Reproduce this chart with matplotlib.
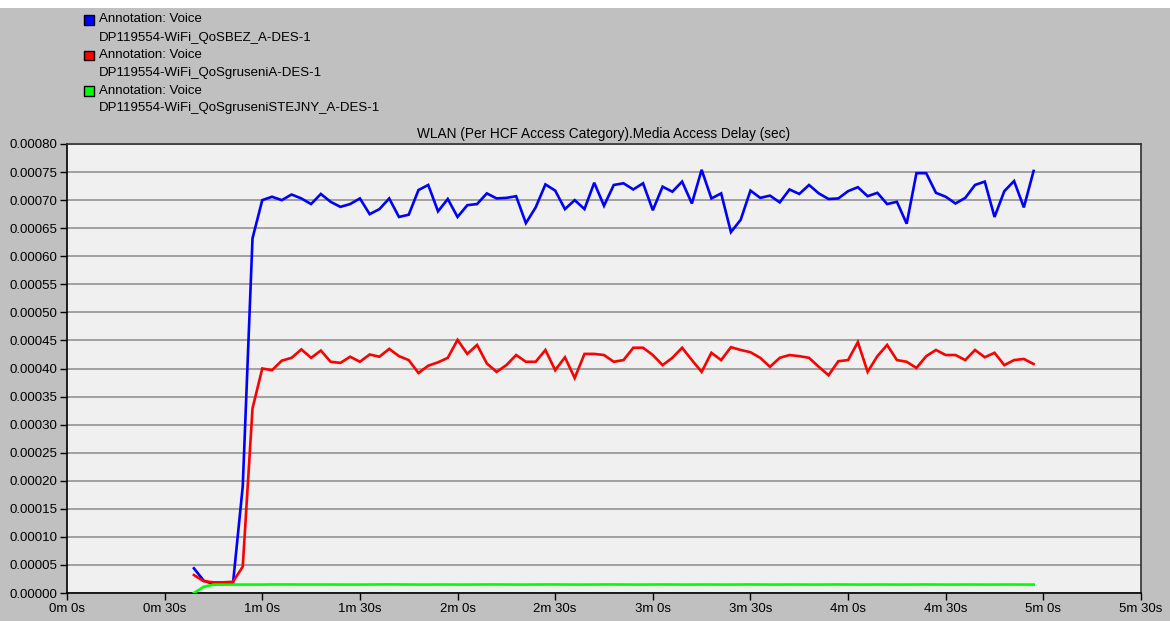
import matplotlib
matplotlib.use("Agg")
import matplotlib.pyplot as plt
from matplotlib.ticker import FuncFormatter, MultipleLocator
from matplotlib.patches import Rectangle

plt.rcParams['font.family'] = ['Liberation Sans', 'DejaVu Sans']

# cas vzorku (s), krok 3 s
t_start = 39
t_step = 3

bez = [0.000044, 0.000022, 0.000016, 0.000016, 0.000017, 0.000190, 0.000632,
       0.000700, 0.000706, 0.000700, 0.000710, 0.000703, 0.000693, 0.000711,
       0.000697, 0.000688, 0.000693, 0.000703, 0.000675, 0.000684, 0.000703,
       0.000670, 0.000674, 0.000718, 0.000727, 0.000680, 0.000702, 0.000670,
       0.000691, 0.000693, 0.000712, 0.000703, 0.000704, 0.000707, 0.000659,
       0.000687, 0.000728, 0.000717, 0.000684, 0.000700, 0.000684, 0.000731,
       0.000690, 0.000727, 0.000730, 0.000719, 0.000730, 0.000682, 0.000724,
       0.000715, 0.000733, 0.000694, 0.000754, 0.000703, 0.000712, 0.000643,
       0.000665, 0.000717, 0.000704, 0.000708, 0.000696, 0.000719, 0.000711,
       0.000727, 0.000712, 0.000702, 0.000703, 0.000716, 0.000723, 0.000707,
       0.000713, 0.000693, 0.000697, 0.000658, 0.000748, 0.000748, 0.000713,
       0.000706, 0.000694, 0.000704, 0.000727, 0.000733, 0.000670, 0.000716,
       0.000734, 0.000687, 0.000752]

gruseni = [0.000032, 0.000021, 0.000019, 0.000019, 0.000020, 0.000047, 0.000329,
           0.000400, 0.000397, 0.000414, 0.000419, 0.000434, 0.000419, 0.000432,
           0.000412, 0.000410, 0.000421, 0.000412, 0.000425, 0.000421, 0.000435,
           0.000422, 0.000415, 0.000392, 0.000405, 0.000411, 0.000419, 0.000451,
           0.000426, 0.000442, 0.000409, 0.000394, 0.000406, 0.000424, 0.000412,
           0.000412, 0.000433, 0.000397, 0.000420, 0.000383, 0.000426, 0.000426,
           0.000424, 0.000412, 0.000415, 0.000437, 0.000437, 0.000424, 0.000406,
           0.000419, 0.000437, 0.000415, 0.000394, 0.000428, 0.000415, 0.000438,
           0.000433, 0.000429, 0.000419, 0.000403, 0.000419, 0.000424, 0.000422,
           0.000419, 0.000403, 0.000388, 0.000413, 0.000415, 0.000447, 0.000394,
           0.000422, 0.000442, 0.000415, 0.000412, 0.000401, 0.000422, 0.000433,
           0.000424, 0.000424, 0.000415, 0.000433, 0.000420, 0.000428, 0.000406,
           0.000415, 0.000417, 0.000408]

stejny = [0.0, 0.000011, 0.000015, 0.000015, 0.000015, 0.000015, 0.000015,
          0.000015, 0.0000152, 0.0000152, 0.0000152, 0.0000151, 0.0000151, 0.0000151,
          0.0000151, 0.000015, 0.000015, 0.000015, 0.0000151, 0.0000152, 0.0000153,
          0.0000152, 0.0000151, 0.000015, 0.000015, 0.0000151, 0.0000151, 0.000015,
          0.000015, 0.0000151, 0.0000152, 0.0000152, 0.0000151, 0.000015, 0.000015,
          0.0000151, 0.0000152, 0.0000152, 0.0000151, 0.000015, 0.000015, 0.0000151,
          0.0000152, 0.0000152, 0.0000151, 0.000015, 0.000015, 0.0000151, 0.0000152,
          0.0000151, 0.000015, 0.000015, 0.0000151, 0.0000151, 0.000015, 0.000015,
          0.0000151, 0.0000152, 0.0000151, 0.000015, 0.000015, 0.0000151, 0.0000151,
          0.000015, 0.000015, 0.0000151, 0.0000152, 0.0000151, 0.000015, 0.000015,
          0.0000151, 0.0000151, 0.000015, 0.000015, 0.0000151, 0.0000152, 0.0000151,
          0.000015, 0.000015, 0.0000151, 0.0000151, 0.000015, 0.000015, 0.0000151,
          0.0000151, 0.000015, 0.000015]

nazvy = ["DP119554-WiFi_QoSBEZ_A-DES-1",
         "DP119554-WiFi_QoSgruseniA-DES-1",
         "DP119554-WiFi_QoSgruseniSTEJNY_A-DES-1"]
barvy = ["#0000ff", "#ff0000", "#00ff00"]

cas = [t_start + i * t_step for i in range(len(bez))]

fs = 9.5

fig = plt.figure(figsize=(11.7, 6.21), dpi=100, facecolor="#c0c0c0")
# bily pruh nahore
fig.patches.append(Rectangle((0, 1 - 8 / 621), 1, 8 / 621, transform=fig.transFigure,
                             facecolor="white", edgecolor="none", zorder=0))

ax = fig.add_axes([67 / 1170, 1 - 593 / 621, (1141 - 67) / 1170, (593 - 144) / 621])
ax.set_facecolor("#f0f0f0")

for serie, c in zip([bez, gruseni, stejny], barvy):
    ax.plot(cas, serie, color=c, lw=1.9, solid_joinstyle="miter", zorder=3)

ax.set_xlim(0, 330)
ax.set_ylim(0, 0.0008)
ax.yaxis.set_major_locator(MultipleLocator(0.00005))
ax.xaxis.set_major_locator(MultipleLocator(30))
ax.yaxis.set_major_formatter(FuncFormatter(lambda v, p: "%.5f" % v))


def fmt_cas(v, p):
    s = int(round(v))
    return "%dm %ds" % (s // 60, s % 60)


ax.xaxis.set_major_formatter(FuncFormatter(fmt_cas))
ax.grid(axis="y", color="#a0a0a0", lw=1.4)
ax.set_axisbelow(True)
ax.tick_params(direction="out", length=5, width=1, labelsize=fs, pad=2, colors="black")
for s in ["left", "bottom"]:
    ax.spines[s].set_color("black")
    ax.spines[s].set_linewidth(1.2)
for s in ["top", "right"]:
    ax.spines[s].set_color("#303030")
    ax.spines[s].set_linewidth(1.2)

ax.set_title("WLAN (Per HCF Access Category).Media Access Delay (sec)",
             fontsize=fs + 0.3, pad=4)

# legenda
for i, (n, c) in enumerate(zip(nazvy, barvy)):
    y0 = 621 - (19.5 + i * 35.5)
    fig.patches.append(Rectangle((84 / 1170, (y0 - 5) / 621), 9.5 / 1170, 9.5 / 621,
                                 transform=fig.transFigure, facecolor=c,
                                 edgecolor="black", lw=1))
    fig.text(99 / 1170, y0 / 621, "Annotation: Voice", fontsize=fs, va="center")
    fig.text(99 / 1170, (y0 - 18) / 621, n, fontsize=fs, va="center")

fig.savefig("out.png", dpi=100, facecolor=fig.get_facecolor())
